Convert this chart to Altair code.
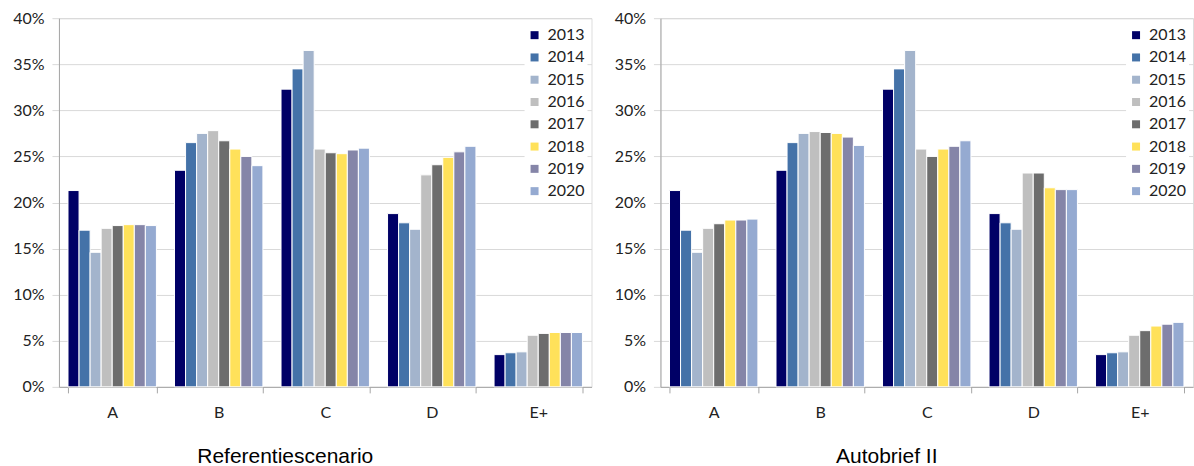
import altair as alt
import pandas as pd

categories = ["A", "B", "C", "D", "E+"]
years = ["2013", "2014", "2015", "2016", "2017", "2018", "2019", "2020"]
colors = ["#000066", "#4472A8", "#A3B4CC", "#BFBFBF", "#6D6D6D", "#FFE15A", "#8585A8", "#95AAD1"]

# Referentiescenario (percent, per category, years 2013..2020)
ref_A = [21.3, 17.0, 14.6, 17.2, 17.5, 17.6, 17.6, 17.5]
ref_B = [23.5, 26.5, 27.5, 27.8, 26.7, 25.8, 25.0, 24.0]
ref_C = [32.3, 34.5, 36.5, 25.8, 25.4, 25.3, 25.7, 25.9]
ref_D = [18.8, 17.8, 17.1, 23.0, 24.1, 24.9, 25.5, 26.1]
ref_E = [3.5, 3.7, 3.8, 5.6, 5.8, 5.9, 5.9, 5.9]

# Autobrief II
auto_A = [21.3, 17.0, 14.6, 17.2, 17.7, 18.1, 18.1, 18.2]
auto_B = [23.5, 26.5, 27.5, 27.7, 27.6, 27.5, 27.1, 26.2]
auto_C = [32.3, 34.5, 36.5, 25.8, 25.0, 25.8, 26.1, 26.7]
auto_D = [18.8, 17.8, 17.1, 23.2, 23.2, 21.6, 21.4, 21.4]
auto_E = [3.5, 3.7, 3.8, 5.6, 6.1, 6.6, 6.8, 7.0]


def make_df(series):
    rows = []
    for cat, vals in zip(categories, series):
        for yr, v in zip(years, vals):
            rows.append({"cat": cat, "year": yr, "v": v / 100.0})
    return pd.DataFrame(rows)


df_ref = make_df([ref_A, ref_B, ref_C, ref_D, ref_E])
df_auto = make_df([auto_A, auto_B, auto_C, auto_D, auto_E])

FONT = "Lato"


def panel(df, title):
    return alt.Chart(df).mark_bar(stroke="white", strokeWidth=1).encode(
        x=alt.X(
            "cat:N", sort=categories,
            scale=alt.Scale(paddingInner=0.17, paddingOuter=0.085),
            axis=alt.Axis(title=None, labelAngle=0, tickBand="extent", tickSize=6,
                          tickColor="#A6A6A6", domainColor="#A6A6A6", labelPadding=12,
                          labelFont=FONT, labelFontSize=16, labelColor="#222222", grid=False),
        ),
        xOffset=alt.XOffset("year:N", sort=years, scale=alt.Scale(paddingInner=0, paddingOuter=0)),
        y=alt.Y(
            "v:Q", scale=alt.Scale(domain=[0, 0.4]),
            axis=alt.Axis(title=None, format="%", values=[0, 0.05, 0.1, 0.15, 0.2, 0.25, 0.3, 0.35, 0.4],
                          grid=True, gridColor="#D9D9D9", tickColor="#D9D9D9", tickSize=7,
                          domainColor="#A6A6A6", labelPadding=8, labelFont=FONT,
                          labelFontSize=16, labelColor="#222222"),
        ),
        color=alt.Color(
            "year:N", scale=alt.Scale(domain=years, range=colors),
            legend=alt.Legend(title=None, orient="none", legendX=466, legendY=7,
                              symbolType="square", symbolSize=64, symbolStrokeWidth=0,
                              labelFont=FONT, labelFontSize=16, labelColor="#222222",
                              rowPadding=6.3, labelOffset=5, fillColor="white", padding=2),
        ),
    ).properties(
        width=533, height=369,
        title=alt.TitleParams(title, orient="bottom", anchor="middle", dx=-40, offset=25,
                              font="Liberation Sans", fontSize=21, fontWeight="normal", color="#000000"),
    )


chart = alt.hconcat(
    panel(df_ref, "Referentiescenario"),
    panel(df_auto, "Autobrief II"),
    spacing=21,
).resolve_scale(color="independent").properties(
    padding={"left": 12, "top": 9, "right": 0, "bottom": 0}
).configure_view(stroke=None).configure(background="white")

chart.save("out.html", embed_options={"renderer": "svg", "actions": False})
